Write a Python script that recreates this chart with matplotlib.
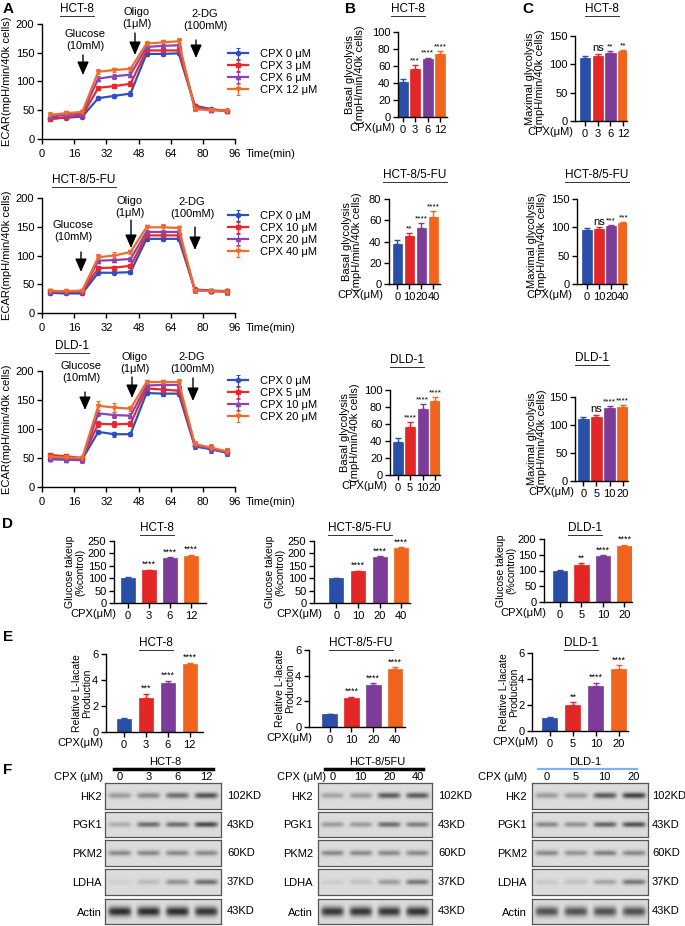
import numpy as np
import matplotlib
matplotlib.use('Agg')
import matplotlib.pyplot as plt
from matplotlib.lines import Line2D

plt.rcParams['font.family'] = ['Liberation Sans', 'DejaVu Sans']
plt.rcParams['axes.linewidth'] = 1.0

# ---------------- data ----------------
time = [4, 12, 20, 28, 36, 44, 52, 60, 68, 76, 84, 92]

hct8_doses = ['0', '3', '6', '12']
fu_doses = ['0', '10', '20', '40']
dld_doses = ['0', '5', '10', '20']

ecar_hct8 = [[36, 37, 39, 71, 75, 79, 148, 148, 149, 58, 52, 48],
             [34, 38, 41, 89, 92, 96, 154, 154, 154, 57, 51, 49],
             [39, 42, 44, 105, 109, 112, 160, 162, 163, 54, 51, 50],
             [42, 45, 47, 117, 120, 122, 166, 168, 170, 52, 50, 49]]
ecar_hct8_err = [[3, 3, 2, 4, 4, 4, 4, 3, 3, 3, 3, 3],
                 [3, 3, 3, 4, 4, 4, 4, 4, 4, 3, 3, 3],
                 [3, 4, 3, 4, 4, 4, 4, 4, 4, 3, 3, 3],
                 [5, 4, 3, 4, 4, 4, 4, 4, 5, 3, 3, 3]]

ecar_fu = [[35, 34, 34, 70, 70, 71, 129, 129, 129, 41, 39, 38],
           [38, 37, 37, 78, 79, 82, 135, 135, 135, 40, 38, 38],
           [37, 37, 38, 91, 92, 94, 141, 141, 141, 40, 38, 37],
           [38, 38, 39, 97, 100, 106, 149, 149, 148, 39, 38, 37]]
ecar_fu_err = [[3, 2, 2, 3, 3, 3, 4, 4, 4, 3, 3, 4],
               [3, 2, 2, 3, 3, 3, 4, 4, 4, 3, 3, 4],
               [3, 2, 2, 4, 4, 4, 4, 4, 4, 4, 3, 5],
               [3, 2, 2, 6, 6, 4, 4, 5, 3, 5, 3, 5]]

ecar_dld = [[48, 48, 48, 95, 91, 91, 162, 161, 161, 70, 65, 59],
            [55, 53, 50, 109, 108, 109, 170, 168, 166, 73, 67, 61],
            [48, 47, 46, 127, 124, 123, 175, 176, 176, 72, 66, 60],
            [52, 51, 50, 140, 137, 135, 181, 181, 181, 74, 68, 61]]
ecar_dld_err = [[4, 4, 4, 4, 4, 3, 4, 4, 4, 5, 6, 6],
                [4, 4, 4, 5, 5, 4, 4, 4, 4, 5, 6, 6],
                [4, 4, 4, 5, 5, 4, 4, 4, 4, 5, 6, 6],
                [4, 4, 4, 8, 8, 4, 4, 4, 6, 5, 6, 6]]

basal_hct8 = [41, 56, 68, 74]
basal_hct8_err = [4, 5, 2, 4]
basal_hct8_sig = ['', '***', '****', '****']
maximal_hct8 = [111, 115, 120, 123]
maximal_hct8_err = [3, 4, 4, 3]
maximal_hct8_sig = ['', 'ns', '**', '**']

basal_fu = [38, 45, 53, 63]
basal_fu_err = [3, 3, 4, 6]
basal_fu_sig = ['', '**', '****', '****']
maximal_fu = [95, 97, 102, 107]
maximal_fu_err = [3, 3, 2, 3]
maximal_fu_sig = ['', 'ns', '***', '***']

basal_dld = [39, 57, 78, 87]
basal_dld_err = [4, 5, 5, 5]
basal_dld_sig = ['', '****', '****', '****']
maximal_dld = [110, 114, 130, 133]
maximal_dld_err = [4, 4, 4, 3]
maximal_dld_sig = ['', 'ns', '****', '****']

glucose_hct8 = [100, 132, 180, 190]
glucose_hct8_err = [3, 3, 4, 5]
glucose_hct8_sig = ['', '****', '****', '****']
glucose_fu = [100, 128, 185, 223]
glucose_fu_err = [2, 3, 3, 3]
glucose_fu_sig = ['', '****', '****', '****']
glucose_dld = [100, 118, 145, 178]
glucose_dld_err = [2, 5, 3, 4]
glucose_dld_sig = ['', '**', '****', '****']

lactate_hct8 = [1.0, 2.65, 3.75, 5.2]
lactate_hct8_err = [0.05, 0.28, 0.2, 0.12]
lactate_hct8_sig = ['', '***', '****', '****']
lactate_fu = [1.0, 2.25, 3.3, 4.55]
lactate_fu_err = [0.04, 0.1, 0.1, 0.1]
lactate_fu_sig = ['', '****', '****', '****']
lactate_dld = [1.0, 2.0, 3.5, 4.75]
lactate_dld_err = [0.08, 0.2, 0.2, 0.3]
lactate_dld_sig = ['', '**', '****', '****']

proteins = ['HK2', 'PGK1', 'PKM2', 'LDHA', 'Actin']
weights = ['102KD', '43KD', '60KD', '37KD', '43KD']
blot_hct8 = [[0.35, 0.45, 0.6, 0.75],
             [0.25, 0.6, 0.6, 0.8],
             [0.45, 0.45, 0.45, 0.45],
             [0.06, 0.18, 0.4, 0.6],
             [0.95, 0.95, 0.95, 0.9]]
blot_fu = [[0.3, 0.35, 0.7, 0.7],
           [0.35, 0.35, 0.6, 0.5],
           [0.45, 0.45, 0.45, 0.45],
           [0.08, 0.15, 0.35, 0.55],
           [0.9, 0.9, 0.9, 0.92]]
blot_dld = [[0.35, 0.35, 0.7, 0.85],
            [0.45, 0.4, 0.65, 0.75],
            [0.45, 0.4, 0.5, 0.45],
            [0.1, 0.15, 0.3, 0.55],
            [0.75, 0.75, 0.75, 0.75]]

bar_colors = ['#2a4fa8', '#e32726', '#7d3c98', '#f0641e']
line_colors = ['#2e4fbf', '#e8282b', '#8a45b0', '#f26b2b']
markers = ['o', 's', '^', 'v']

# ---------------- layout helpers ----------------
W, H = 685, 926
fig = plt.figure(figsize=(W / 100, H / 100), dpi=100)
underlined = []


def box(l, t, r, b):
    return [l / W, 1 - b / H, (r - l) / W, (b - t) / H]


def ftext(x, y, s, **kw):
    return fig.text(x / W, 1 - y / H, s, **kw)


def title(x, y, s, fs=8.5):
    t = ftext(x, y, s, ha='center', va='center', fontsize=fs)
    underlined.append(t)


def style(ax):
    for s in ['top', 'right']:
        ax.spines[s].set_visible(False)
    ax.tick_params(direction='out', length=3.5, width=1, labelsize=8, pad=2)


# ---------------- panel A ----------------
def ecar_panel(rect, data, errs, doses, ttl, leg_top, arrows):
    l, t, r, b = rect
    ax = fig.add_axes(box(*rect))
    for i in range(4):
        ax.errorbar(time, data[i], yerr=errs[i], color=line_colors[i], marker=markers[i],
                    ms=3, lw=1.6, elinewidth=0.8, capsize=1.5, capthick=0.8,
                    ecolor=line_colors[i], label='CPX %s \u03bcM' % doses[i], clip_on=False)
    ax.set_xlim(0, 96)
    ax.set_ylim(0, 200)
    ax.set_xticks([0, 16, 32, 48, 64, 80, 96])
    ax.set_yticks([0, 50, 100, 150, 200])
    style(ax)
    ax.tick_params(axis='x', pad=4)
    ax.legend(loc='upper left', bbox_to_anchor=(228 / W, 1 - leg_top / H),
              bbox_transform=fig.transFigure, frameon=False, fontsize=8,
              handlelength=1.8, handletextpad=1.1, labelspacing=0.18,
              borderaxespad=0, borderpad=0)
    ftext(7, (t + b) / 2, 'ECAR(mpH/min/40k cells)', rotation=90, ha='center', va='center', fontsize=8)
    ftext(246, b + 15, 'Time(min)', ha='left', va='center', fontsize=8)
    title(ttl[0], ttl[1], ttl[2])
    for (tx, ty, s, axx, ay0, ay1) in arrows:
        ftext(tx, ty, s, ha='center', va='top', fontsize=8, linespacing=1.25)
        ax.annotate('', xy=(axx / W, 1 - ay1 / H), xytext=(axx / W, 1 - ay0 / H),
                    xycoords='figure fraction', textcoords='figure fraction',
                    arrowprops=dict(arrowstyle='-|>,head_length=0.8,head_width=0.35',
                                    color='k', lw=1.0, mutation_scale=10, shrinkA=0, shrinkB=0))
    return ax


ecar_panel((42, 24, 235, 139), ecar_hct8, ecar_hct8_err, hct8_doses, (77, 9, 'HCT-8'), 49,
           [(85, 29, 'Glucose\n(10mM)', 83, 55, 75),
            (137, 7, 'Oligo\n(1\u03bcM)', 135, 33, 55),
            (205, 9, '2-DG\n(100mM)', 196, 40, 58)])
ecar_panel((42, 198, 235, 313), ecar_fu, ecar_fu_err, fu_doses, (84, 180, 'HCT-8/5-FU'), 211,
           [(73, 220, 'Glucose\n(10mM)', 81, 252, 272),
            (130, 196, 'Oligo\n(1\u03bcM)', 131, 220, 248),
            (192, 197, '2-DG\n(100mM)', 195, 227, 250)])
ecar_panel((42, 371, 235, 487), ecar_dld, ecar_dld_err, dld_doses, (72, 346, 'DLD-1'), 376,
           [(81, 361, 'Glucose\n(10mM)', 85, 392, 410),
            (135, 352, 'Oligo\n(1\u03bcM)', 132, 377, 398),
            (192, 352, '2-DG\n(100mM)', 193, 378, 401)])


# ---------------- bar panels ----------------
def bar_panel(rect, vals, errs, sig, doses, ylim, yticks, xlim, ylab, ylab_x, cpx_right,
              ttl, width=0.8, star_fs=6, fs=8, lab_fs=8):
    l, t, r, b = rect
    ax = fig.add_axes(box(*rect))
    x = np.arange(4)
    ax.bar(x, vals, width, color=bar_colors, edgecolor=bar_colors, linewidth=0.5)
    for i in range(4):
        ax.errorbar(x[i], vals[i], yerr=[[0], [errs[i]]], color=bar_colors[i],
                    capsize=2, elinewidth=1, capthick=1, clip_on=False)
        if sig[i]:
            ax.annotate(sig[i], (x[i], vals[i] + errs[i]), xytext=(0, 0.5),
                        textcoords='offset points', ha='center', va='bottom',
                        fontsize=(fs if sig[i] == 'ns' else star_fs),
                        annotation_clip=False)
    ax.set_xlim(*xlim)
    ax.set_ylim(*ylim)
    ax.set_yticks(yticks)
    ax.set_xticks(x)
    ax.set_xticklabels(doses)
    style(ax)
    ax.tick_params(labelsize=fs)
    ftext(ylab_x, (t + b) / 2, ylab, rotation=90, ha='center', va='center',
          fontsize=lab_fs, linespacing=1.0)
    ftext(cpx_right, b + 11, 'CPX(\u03bcM)', ha='right', va='center', fontsize=fs)
    title(ttl[0], ttl[1], ttl[2])
    return ax


basal_lab = 'Basal glycolysis\n(mpH/min/40k cells)'
max_lab = 'Maximal glycolysis\n(mpH/min/40k cells)'
bar_panel((398, 32, 447, 117), basal_hct8, basal_hct8_err, basal_hct8_sig, hct8_doses,
          (0, 100), [0, 20, 40, 60, 80, 100], (-0.36, 3.56), basal_lab, 355, 395, (408, 9, 'HCT-8'))
bar_panel((575, 36, 627, 121), maximal_hct8, maximal_hct8_err, maximal_hct8_sig, hct8_doses,
          (0, 150), [0, 50, 100, 150], (-0.79, 3.3), max_lab, 535, 573, (602, 9, 'HCT-8'))
bar_panel((389, 199, 440, 284), basal_fu, basal_fu_err, basal_fu_sig, fu_doses,
          (0, 80), [0, 20, 40, 60, 80], (-0.7, 3.55), basal_lab, 352, 383, (415, 175, 'HCT-8/5-FU'))
bar_panel((577, 199, 627, 284), maximal_fu, maximal_fu_err, maximal_fu_sig, fu_doses,
          (0, 150), [0, 50, 100, 150], (-0.8, 3.3), max_lab, 537, 572, (597, 175, 'HCT-8/5-FU'))
bar_panel((390, 390, 440, 475), basal_dld, basal_dld_err, basal_dld_sig, dld_doses,
          (0, 100), [0, 20, 40, 60, 80, 100], (-0.6, 3.4), basal_lab, 350, 387, (407, 360, 'DLD-1'))
bar_panel((575, 397, 628, 481), maximal_dld, maximal_dld_err, maximal_dld_sig, dld_doses,
          (0, 150), [0, 50, 100, 150], (-0.63, 3.4), max_lab, 537, 574, (592, 358, 'DLD-1'))

glu_lab = 'Glucose takeup\n(%control)'
bar_panel((114, 541, 206, 603), glucose_hct8, glucose_hct8_err, glucose_hct8_sig, hct8_doses,
          (0, 250), [0, 50, 100, 150, 200, 250], (-0.64, 3.7), glu_lab, 75, 116,
          (157, 528, 'HCT-8'), width=0.66, star_fs=6.5, lab_fs=7.5)
bar_panel((314, 541, 410, 603), glucose_fu, glucose_fu_err, glucose_fu_sig, fu_doses,
          (0, 250), [0, 50, 100, 150, 200, 250], (-1.03, 3.4), glu_lab, 275, 322,
          (360, 528, 'HCT-8/5-FU'), width=0.66, star_fs=6.5, lab_fs=7.5)
bar_panel((544, 539, 632, 602), glucose_dld, glucose_dld_err, glucose_dld_sig, dld_doses,
          (0, 200), [0, 50, 100, 150, 200], (-0.74, 3.35), glu_lab, 506, 546,
          (585, 528, 'DLD-1'), width=0.66, star_fs=6.5, lab_fs=7.5)

lac_lab = 'Relative L-lacate\nProduction'
bar_panel((106, 654, 203, 732), lactate_hct8, lactate_hct8_err, lactate_hct8_sig, hct8_doses,
          (0, 6), [0, 2, 4, 6], (-0.82, 3.6), lac_lab, 82, 103,
          (156, 643, 'HCT-8'), width=0.66, star_fs=6.5, lab_fs=7.5)
bar_panel((309, 650, 405, 727), lactate_fu, lactate_fu_err, lactate_fu_sig, fu_doses,
          (0, 6), [0, 2, 4, 6], (-0.94, 3.45), lac_lab, 285, 312,
          (361, 643, 'HCT-8/5-FU'), width=0.66, star_fs=6.5, lab_fs=7.5)
bar_panel((532, 653, 628, 731), lactate_dld, lactate_dld_err, lactate_dld_sig, dld_doses,
          (0, 6), [0, 2, 4, 6], (-0.78, 3.4), lac_lab, 509, 538,
          (581, 643, 'DLD-1'), width=0.66, star_fs=6.5, lab_fs=7.5)

# ---------------- panel F: western blots ----------------
row_bounds = [(783, 809), (812, 837), (840, 866), (869, 895), (899, 924)]


def blot(x0, x1, inten, doses, head, head_x, line_x, line_col, line_w, label_right, kd_left, cpx_right):
    nx, ny = 160, 30
    xs = np.linspace(0, 4, nx)
    ys = np.linspace(0, 1, ny)
    for k, (t, b) in enumerate(row_bounds):
        ax = fig.add_axes(box(x0, t, x1, b))
        thick = 0.2 if proteins[k] == 'Actin' else 0.11
        dark = np.zeros((ny, nx))
        for i in range(4):
            hx = np.exp(-((xs - (i + 0.5)) / 0.4) ** 6)
            vy = np.exp(-((ys - 0.5) / thick) ** 2)
            dark += inten[k][i] * np.outer(vy, hx)
        img = np.clip(0.86 - 0.72 * dark, 0, 1)
        ax.imshow(img, cmap='gray', vmin=0, vmax=1, extent=(0, 4, 0, 1), aspect='auto',
                  interpolation='bilinear')
        ax.set_xticks([])
        ax.set_yticks([])
        for s in ax.spines.values():
            s.set_color('#555555')
            s.set_linewidth(0.9)
        ftext(label_right, (t + b) / 2 + 1, proteins[k], ha='right', va='center', fontsize=8)
        ftext(kd_left, (t + b) / 2, weights[k], ha='left', va='center', fontsize=8)
    lane_w = (x1 - x0) / 4
    for i in range(4):
        ftext(x0 + lane_w * (i + 0.5), 777, doses[i], ha='center', va='center', fontsize=8)
    ftext(cpx_right, 777, 'CPX (\u03bcM)', ha='right', va='center', fontsize=8)
    ftext(head_x, 762, head, ha='center', va='center', fontsize=8)
    fig.add_artist(Line2D([line_x[0] / W, line_x[1] / W], [1 - 769 / H, 1 - 769 / H],
                          color=line_col, lw=line_w, transform=fig.transFigure))


blot(105, 221, blot_hct8, hct8_doses, 'HCT-8', 165, (114, 213), 'black', 2.5, 102, 227, 103)
blot(318, 432, blot_fu, fu_doses, 'HCT-8/5FU', 377, (325, 423), 'black', 2.5, 313, 438, 326)
blot(532, 648, blot_dld, dld_doses, 'DLD-1', 585, (538, 637), '#7fb2e5', 1.6, 527, 652, 527)

# ---------------- panel letters ----------------
for s, x, y in [('A', 8, 9), ('B', 350, 9), ('C', 528, 9), ('D', 8, 524), ('E', 8, 637), ('F', 8, 770)]:
    ftext(x, y, s, ha='center', va='center', fontsize=11, fontweight='bold')

# underline the cell-line titles
fig.canvas.draw()
for t in underlined:
    bb = t.get_window_extent()
    y = (bb.y0 - 0.5) / H
    fig.add_artist(Line2D([bb.x0 / W, bb.x1 / W], [y, y], color='#333333', lw=0.7,
                          transform=fig.transFigure))

fig.savefig('out.png', dpi=100)
